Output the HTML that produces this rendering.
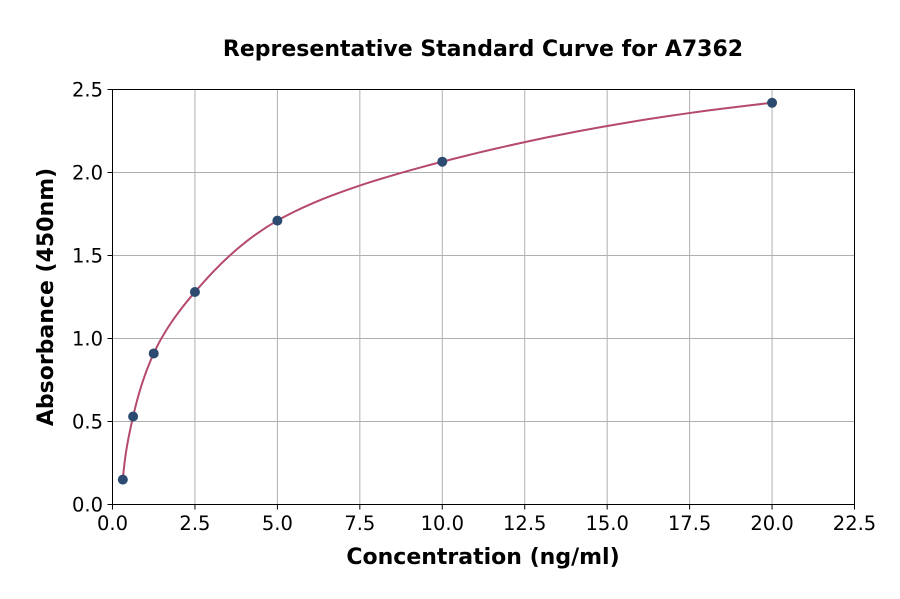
<!DOCTYPE html>
<html><head><meta charset="utf-8"><style>
body{margin:0;background:#fff;}
svg text{font-family:"DejaVu Sans","Liberation Sans",sans-serif;fill:#000;}
</style></head><body>
<svg id="s" width="900" height="594" xmlns="http://www.w3.org/2000/svg">
<rect width="900" height="594" fill="#fff"/>
<g id="grid" stroke="#b0b0b0" stroke-width="1"></g>
<path id="curve" fill="none" stroke="#b5496e" stroke-width="2"/>
<g id="pts" fill="#2d4b70"></g>
<rect x="112.5" y="89.5" width="742" height="415" fill="none" stroke="#000" stroke-width="1"/>
<g id="ticks" stroke="#000" stroke-width="1"></g>
<g id="labels" font-size="19.5"></g>
<text x="483" y="56" font-size="22" font-weight="bold" text-anchor="middle">Representative Standard Curve for A7362</text>
<text x="483" y="564" font-size="22" font-weight="bold" text-anchor="middle">Concentration (ng/ml)</text>
<text transform="translate(53,297) rotate(-90)" font-size="22" font-weight="bold" text-anchor="middle">Absorbance (450nm)</text>
</svg>
<script>
const NS="http://www.w3.org/2000/svg";
const X=v=>112.5+v*742/22.5, Y=v=>504.5-v*415/2.5;
function el(p,t,a,txt){const e=document.createElementNS(NS,t);for(const k in a)e.setAttribute(k,a[k]);if(txt!=null)e.textContent=txt;document.getElementById(p).appendChild(e);}
for(let i=0;i<=9;i++){const v=i*2.5,x=X(v);
 if(i>0&&i<9)el("grid","line",{x1:x,x2:x,y1:89.5,y2:504.5});
 el("ticks","line",{x1:x,x2:x,y1:504.5,y2:509.5});
 el("labels","text",{x:x,y:530,"text-anchor":"middle"},v.toFixed(1));}
for(let i=0;i<=5;i++){const v=i*0.5,y=Y(v);
 if(i>0&&i<5)el("grid","line",{x1:112.5,x2:854.5,y1:y,y2:y});
 el("ticks","line",{x1:107.5,x2:112.5,y1:y,y2:y});
 el("labels","text",{x:103,y:y+7,"text-anchor":"end"},v.toFixed(1));}
const px=[0.3125,0.625,1.25,2.5,5,10,20],py=[0.15,0.53,0.91,1.28,1.71,2.065,2.42];
const lx=px.map(Math.log);
let d="";
for(let i=0;i<px.length-1;i++){
 const p0=py[Math.max(i-1,0)],p1=py[i],p2=py[i+1],p3=py[Math.min(i+2,px.length-1)];
 const m1=i==0?(p2-p1)*1.3:(p2-p0)/2, m2=i+2>=px.length?(p2-p1)*0.85:(p3-p1)/2;
 for(let k=0;k<=20;k++){const t=k/20,t2=t*t,t3=t2*t;
  const y=(2*t3-3*t2+1)*p1+(t3-2*t2+t)*m1+(-2*t3+3*t2)*p2+(t3-t2)*m2;
  const x=Math.exp(lx[i]+t*(lx[i+1]-lx[i]));
  d+=(d?"L":"M")+X(x).toFixed(2)+","+Y(y).toFixed(2);}
}
document.getElementById("curve").setAttribute("d",d);
px.forEach((v,i)=>el("pts","circle",{cx:X(v),cy:Y(py[i]),r:5}));
</script>
</body></html>
